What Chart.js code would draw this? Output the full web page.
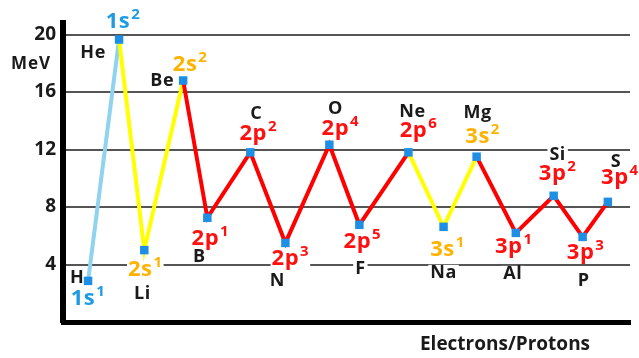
<!DOCTYPE html>
<html>
<head>
<meta charset="utf-8">
<script src="https://cdn.jsdelivr.net/npm/chart.js"></script>
<style>
body{margin:0;background:#fff}
#wrap{width:639px;height:358px}
</style>
</head>
<body>
<div id="wrap"><canvas id="myChart"></canvas></div>
<script>
// data
var elements=["H","He","Li","Be","B","C","N","O","F","Ne","Na","Mg","Al","Si","P","S"]
var xPos=[1,1.91,2.65,3.79,4.5,5.76,6.79,8.08,8.96,10.4,11.43,12.4,13.55,14.66,15.51,16.25]
var energy=[2.86,19.65,5.0,16.8,7.25,11.8,5.5,12.33,6.76,11.8,6.62,11.5,6.2,8.78,5.92,8.36]
var shells=["1s","1s","2s","2s","2p","2p","2p","2p","2p","2p","3s","3s","3p","3p","3p","3p"]
var shellCount=["1","2","1","2","1","2","3","4","5","6","1","2","1","2","3","4"]
var yTicks=[4,8,12,16,20]

// label placement (pixel offsets from each point)
var elOff=[[-11,-4],[-26,12],[-2,42],[-21,-1],[-8,38],[6,-40],[-8,37],[6,-37],[1,43],[4,-42],[0,45],[1,-45],[-3,40],[4,-42],[1,43],[8,-41]]
var shOff=[[0,16],[4,-20],[1,18],[7,-18],[3,19],[8,-20],[5,14],[11,-18],[3,15],[10,-23],[4,21],[6,-22],[-2,12],[4,-24],[3,14],[12,-26]]

function shellColor(s){
    if(s=="1s") return "#1e9be3"
    if(s[1]=="s") return "#ffb300"
    return "#ff1010"
}
function lineColor(s){
    if(s=="1s") return "#8fd3ef"
    if(s[1]=="s") return "#ffff00"
    return "#ff0000"
}

var pts=[]
for(let i=0;i<elements.length;i++){
    pts.push({x:xPos[i],y:energy[i]})
}

function elFont(ctx){ctx.letterSpacing="0.5px";ctx.font="bold 18px 'Open Sans'"}
function shFont(ctx){ctx.letterSpacing="0.5px";ctx.font="bold 22px 'Open Sans'"}
function supFont(ctx){ctx.letterSpacing="0.5px";ctx.font="bold 15px 'Open Sans'"}

var labelPlugin={
    id:"labels",
    beforeDatasetsDraw(chart){
        var ctx=chart.ctx
        var meta=chart.getDatasetMeta(0)
        ctx.save()
        ctx.textAlign="left"
        ctx.textBaseline="alphabetic"
        var items=[]
        for(let i=0;i<meta.data.length;i++){
            let p=meta.data[i]
            elFont(ctx)
            let ex=p.x+elOff[i][0], ey=p.y+elOff[i][1]
            let w=ctx.measureText(elements[i]).width
            shFont(ctx)
            let bw=ctx.measureText(shells[i]).width
            supFont(ctx)
            let uw=ctx.measureText(shellCount[i]).width
            let sx=p.x+shOff[i][0], sy=p.y+shOff[i][1]
            let x0=sx-(bw+uw+1)/2
            items.push({ex,ey,w,sx,sy,bw,uw,x0})
        }
        // white backing first, so it only hides the grid
        ctx.fillStyle="#fff"
        items.forEach(function(it){
            ctx.fillRect(it.ex-it.w/2-2,it.ey-7,it.w+4,14)
            ctx.fillRect(it.x0-1,it.sy-10,it.bw+it.uw+3,20)
        })
        items.forEach(function(it,i){
            elFont(ctx)
            ctx.fillStyle="#1a1a1a"
            ctx.fillText(elements[i],it.ex-it.w/2,it.ey+6.5)
            ctx.fillStyle=shellColor(shells[i])
            shFont(ctx)
            ctx.fillText(shells[i],it.x0,it.sy+8)
            supFont(ctx)
            ctx.fillText(shellCount[i],it.x0+it.bw+1,it.sy-1)
        })
        ctx.restore()
    },
    afterDraw(chart){
        var ctx=chart.ctx
        ctx.save()
        ctx.fillStyle="#1a1a1a"
        ctx.textAlign="center"
        ctx.textBaseline="middle"
        ctx.letterSpacing="1px"
        ctx.font="bold 17px 'Open Sans'"
        ctx.fillText("MeV",31,64)
        ctx.letterSpacing="0px"
        ctx.font="bold 19px 'Open Sans'"
        ctx.fillText("Electrons/Protons",505,345)
        ctx.restore()
    }
}

const ctx=document.getElementById("myChart")
new Chart(ctx,{
    type:"line",
    data:{
        datasets:[{
            data:pts,
            borderWidth:4,
            tension:0,
            clip:false,
            pointStyle:"rect",
            pointRadius:6,
            pointBorderWidth:0,
            pointBackgroundColor:"#1f8fe6",
            segment:{
                borderColor:(c)=>lineColor(shells[c.p1DataIndex])
            }
        }]
    },
    options:{
        responsive:true,
        maintainAspectRatio:false,
        animation:false,
        events:[],
        layout:{padding:{top:23,right:9,left:0,bottom:0}},
        plugins:{legend:{display:false},tooltip:{enabled:false}},
        scales:{
            x:{
                type:"linear",
                min:0.265,
                max:16.9,
                grid:{display:false},
                ticks:{display:false},
                border:{display:true,color:"#000",width:5},
                afterFit(s){s.height=36}
            },
            y:{
                min:0,
                max:20.8,
                afterBuildTicks(s){s.ticks=[0].concat(yTicks).map(v=>({value:v}))},
                ticks:{
                    callback:(v)=>v==0?"":v,
                    color:"#1a1a1a",
                    padding:7,
                    font:{family:"Open Sans",size:19,weight:"bold"}
                },
                grid:{color:"#555",lineWidth:2,drawTicks:false},
                border:{display:true,color:"#000",width:6},
                afterFit(s){s.width=63}
            }
        }
    },
    plugins:[labelPlugin]
})
</script>
</body>
</html>
